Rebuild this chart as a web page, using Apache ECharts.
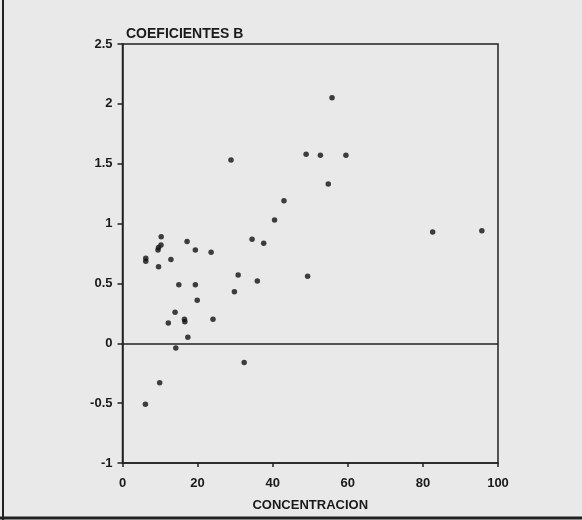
<!DOCTYPE html>
<html>
<head>
<meta charset="utf-8">
<script src="https://cdn.jsdelivr.net/npm/echarts@6/dist/echarts.min.js"></script>
<style>
html,body{margin:0;padding:0;background:#e9e9e9;}
#c{width:582px;height:520px;}
</style>
</head>
<body>
<div id="c"></div>
<script>
// Data
var concentracion = [10.3, 10.25, 9.6, 9.45, 17.2, 19.4, 23.6, 6.2, 6.2, 12.9,
  9.6, 15.0, 19.4, 19.9, 14.0, 16.5, 16.6, 12.2, 24.1, 17.4,
  14.2, 9.9, 6.1, 28.9, 48.9, 52.7, 54.8, 43.0, 40.5, 34.5,
  37.6, 30.8, 35.9, 29.8, 49.3, 32.4, 55.8, 59.5, 82.6, 95.7];
var coeficientes = [0.89, 0.82, 0.80, 0.78, 0.85, 0.78, 0.76, 0.71, 0.685, 0.70,
  0.64, 0.49, 0.49, 0.36, 0.26, 0.20, 0.18, 0.17, 0.20, 0.05,
  -0.04, -0.33, -0.51, 1.53, 1.58, 1.57, 1.33, 1.19, 1.03, 0.87,
  0.835, 0.57, 0.52, 0.43, 0.56, -0.16, 2.05, 1.57, 0.93, 0.94];
var xTicks = [0, 20, 40, 60, 80, 100];
var yTicks = [-1, -0.5, 0, 0.5, 1, 1.5, 2, 2.5];
var titleText = 'COEFICIENTES B';
var xName = 'CONCENTRACION';

var pts = concentracion.map(function (x, i) { return [x, coeficientes[i]]; });
var chart = echarts.init(document.getElementById('c'), null, {renderer: 'canvas'});
var font = 'Liberation Sans, Arial, sans-serif';
chart.setOption({
  backgroundColor: '#e9e9e9',
  animation: false,
  title: {
    text: titleText, left: 121, top: 22,
    textStyle: {fontFamily: font, fontSize: 14, fontWeight: 'bold', color: '#1a1a1a'}
  },
  grid: {left: 122.5, right: 84, top: 44, bottom: 57, show: true,
    borderColor: '#222', borderWidth: 1.5, backgroundColor: 'transparent'},
  xAxis: {
    type: 'value', min: xTicks[0], max: xTicks[xTicks.length - 1], interval: 20,
    name: xName, nameLocation: 'middle', nameGap: 36,
    nameTextStyle: {fontFamily: font, fontSize: 13, fontWeight: 'bold', color: '#1a1a1a'},
    axisLine: {show: true, onZero: false, lineStyle: {color: '#222', width: 1.5}},
    axisTick: {show: true, length: 4, lineStyle: {color: '#222', width: 1.5}},
    axisLabel: {fontFamily: font, fontSize: 13, fontWeight: 'bold', color: '#1a1a1a', margin: 14},
    splitLine: {show: false}
  },
  yAxis: {
    type: 'value', min: yTicks[0], max: yTicks[yTicks.length - 1], interval: 0.5,
    axisLine: {show: true, lineStyle: {color: '#222', width: 1.5}},
    axisTick: {show: true, length: 5, lineStyle: {color: '#222', width: 1.5}},
    axisLabel: {fontFamily: font, fontSize: 13, fontWeight: 'bold', color: '#1a1a1a', margin: 10},
    splitLine: {show: false}
  },
  series: [{
    type: 'scatter', data: pts, symbol: 'circle', symbolSize: 5.5,
    itemStyle: {color: '#111'},
    markLine: {
      silent: true, symbol: ['none', 'none'], label: {show: false},
      lineStyle: {color: '#222', width: 1.5, type: 'solid'},
      data: [{yAxis: 0}]
    }
  }],
  graphic: [
    {type: 'line', shape: {x1: 3, y1: 0, x2: 3, y2: 520}, style: {stroke: '#222', lineWidth: 2}},
    {type: 'line', shape: {x1: 0, y1: 518, x2: 582, y2: 518}, style: {stroke: '#222', lineWidth: 3}}
  ]
});
</script>
</body>
</html>
